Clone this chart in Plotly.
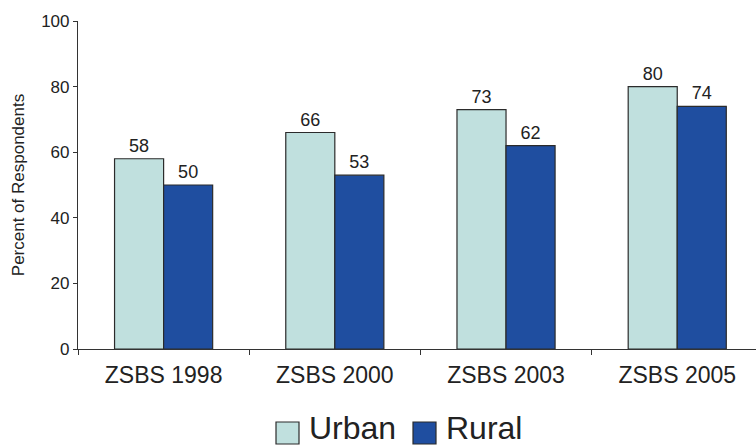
import plotly.graph_objects as go

categories = ["ZSBS 1998", "ZSBS 2000", "ZSBS 2003", "ZSBS 2005"]
series_names = ["Urban", "Rural"]
urban = [58, 66, 73, 80]
rural = [50, 53, 62, 74]
y_ticks = [0, 20, 40, 60, 80, 100]

colors = ["#C0E0DE", "#1F4EA0"]
FONT = "Liberation Sans, Arial, sans-serif"

fig = go.Figure()
for name, vals, col in zip(series_names, [urban, rural], colors):
    fig.add_trace(go.Bar(
        x=categories, y=vals, name=name,
        marker=dict(color=col, line=dict(color="#2b2b2b", width=1.2)),
        text=[str(v) for v in vals], textposition="outside",
        textfont=dict(size=18, color="#222", family=FONT),
        cliponaxis=False, showlegend=False,
    ))

# manual legend (large swatches)
leg_x = [276, 413]
txt_x = [308, 445]
for i, (name, col) in enumerate(zip(series_names, colors)):
    fig.add_shape(type="rect", xref="paper", yref="paper",
                  x0=(leg_x[i] - 78) / 678, x1=(leg_x[i] + 23 - 78) / 678,
                  y0=-(422 - 349) / 328, y1=-(444 - 349) / 328,
                  fillcolor=col, line=dict(color="#2b2b2b", width=1.2))
    fig.add_annotation(text=name, xref="paper", yref="paper",
                       x=(txt_x[i] - 78) / 678, y=-(428 - 349) / 328,
                       xanchor="left", yanchor="middle", showarrow=False,
                       borderpad=0,
                       font=dict(size=32, color="#222", family=FONT))

fig.update_layout(
    width=756, height=447,
    margin=dict(l=78, r=0, t=21, b=98),
    paper_bgcolor="white", plot_bgcolor="white",
    barmode="group", bargap=0.427, bargroupgap=0,
    font=dict(family=FONT, color="#222"),
    showlegend=False,
)
fig.update_yaxes(
    range=[0, 100], tickvals=y_ticks, showgrid=False, zeroline=False,
    showline=True, linecolor="#333", linewidth=1.2,
    ticks="outside", ticklen=4, tickcolor="#333", tickwidth=1.2,
    tickfont=dict(size=17, color="#222"),
    title=dict(text="Percent of Respondents", font=dict(size=17, color="#222"), standoff=12),
)
fig.update_xaxes(
    range=[-0.5, 3.46], showgrid=False, zeroline=False,
    showline=True, linecolor="#333", linewidth=1.2,
    ticks="outside", tickson="boundaries", ticklen=5, tickcolor="#333", tickwidth=1.2,
    tickfont=dict(size=23, color="#222"), ticklabelstandoff=5,
)

fig.write_html("out.html", config={"displayModeBar": False},
               post_script="document.body.style.margin='0';document.body.style.overflow='hidden';")
